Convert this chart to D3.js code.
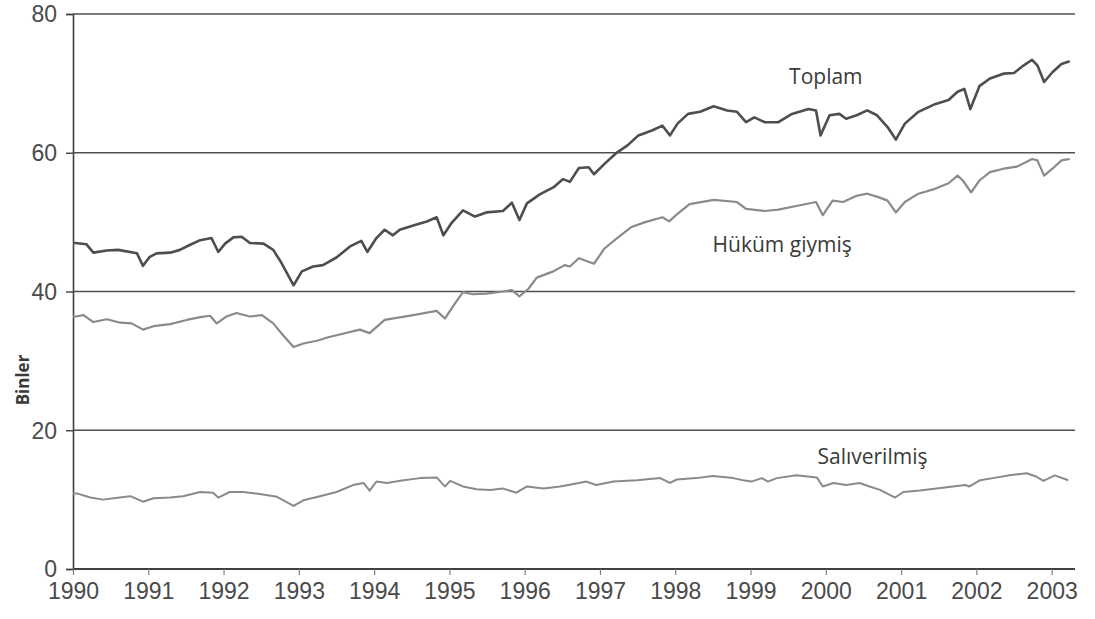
<!DOCTYPE html>
<html>
<head>
<meta charset="utf-8">
<script src="https://cdn.jsdelivr.net/npm/d3@7"></script>
<style>
  html, body { margin: 0; padding: 0; background: #fff; }
  svg { display: block; }
</style>
</head>
<body>
<svg id="chart" width="1095" height="619"></svg>
<script>
// ---- data (decimal year, thousands) ----
const yearTicks = [1990,1991,1992,1993,1994,1995,1996,1997,1998,1999,2000,2001,2002,2003];
const valueTicks = [0,20,40,60,80];

const toplam = [
  [1990.00,47.0],[1990.03,47.0],[1990.18,46.8],[1990.27,45.6],[1990.45,45.9],[1990.60,46.0],
  [1990.85,45.5],[1990.93,43.7],[1991.02,45.0],[1991.11,45.5],[1991.29,45.6],[1991.42,46.0],
  [1991.55,46.7],[1991.69,47.4],[1991.84,47.7],[1991.93,45.7],[1992.02,46.9],[1992.13,47.8],
  [1992.24,47.9],[1992.35,47.0],[1992.53,46.9],[1992.66,46.0],[1992.77,44.1],[1992.93,40.9],
  [1993.04,42.9],[1993.19,43.6],[1993.32,43.8],[1993.50,44.9],[1993.68,46.5],[1993.83,47.3],
  [1993.91,45.7],[1994.03,47.7],[1994.14,48.9],[1994.25,48.1],[1994.34,48.9],[1994.52,49.5],
  [1994.70,50.1],[1994.83,50.7],[1994.92,48.1],[1995.03,49.9],[1995.18,51.7],[1995.34,50.8],
  [1995.49,51.4],[1995.71,51.6],[1995.83,52.8],[1995.93,50.3],[1996.03,52.7],[1996.20,54.0],
  [1996.38,55.0],[1996.51,56.2],[1996.60,55.8],[1996.72,57.8],[1996.85,57.9],[1996.92,56.9],
  [1997.06,58.4],[1997.21,59.9],[1997.37,61.1],[1997.51,62.5],[1997.69,63.2],[1997.83,63.9],
  [1997.93,62.5],[1998.03,64.2],[1998.17,65.6],[1998.33,65.9],[1998.51,66.7],[1998.69,66.1],
  [1998.82,65.9],[1998.94,64.4],[1999.05,65.1],[1999.19,64.4],[1999.37,64.4],[1999.55,65.6],
  [1999.77,66.3],[1999.87,66.1],[1999.93,62.5],[2000.05,65.4],[2000.18,65.6],[2000.27,64.9],
  [2000.41,65.4],[2000.55,66.1],[2000.68,65.4],[2000.82,63.7],[2000.93,61.9],[2001.05,64.2],
  [2001.23,65.9],[2001.45,67.0],[2001.63,67.6],[2001.75,68.8],[2001.84,69.2],[2001.92,66.3],
  [2002.04,69.6],[2002.18,70.7],[2002.36,71.4],[2002.50,71.5],[2002.63,72.6],[2002.74,73.4],
  [2002.81,72.6],[2002.90,70.2],[2003.01,71.6],[2003.13,72.8],[2003.24,73.2]
];

const hukum = [
  [1990.00,36.4],[1990.04,36.4],[1990.14,36.6],[1990.27,35.6],[1990.45,36.0],[1990.63,35.5],
  [1990.78,35.4],[1990.93,34.5],[1991.07,35.0],[1991.29,35.3],[1991.51,35.9],[1991.69,36.3],
  [1991.82,36.5],[1991.91,35.4],[1992.04,36.4],[1992.17,36.9],[1992.35,36.4],[1992.51,36.6],
  [1992.66,35.4],[1992.79,33.7],[1992.93,32.0],[1993.06,32.5],[1993.24,32.9],[1993.39,33.4],
  [1993.50,33.7],[1993.81,34.5],[1993.94,34.0],[1994.14,35.9],[1994.52,36.6],[1994.83,37.2],
  [1994.94,36.1],[1995.07,38.2],[1995.18,39.9],[1995.31,39.6],[1995.49,39.7],[1995.71,40.0],
  [1995.83,40.2],[1995.93,39.3],[1996.05,40.4],[1996.16,42.0],[1996.38,42.9],[1996.53,43.8],
  [1996.60,43.6],[1996.72,44.8],[1996.92,44.0],[1997.06,46.2],[1997.24,47.8],[1997.42,49.3],
  [1997.60,50.0],[1997.83,50.7],[1997.92,50.1],[1998.03,51.2],[1998.19,52.6],[1998.51,53.2],
  [1998.82,52.9],[1998.94,51.9],[1999.19,51.6],[1999.37,51.8],[1999.64,52.4],[1999.87,52.9],
  [1999.96,51.0],[2000.09,53.1],[2000.23,52.9],[2000.41,53.8],[2000.55,54.1],[2000.70,53.6],
  [2000.82,53.1],[2000.93,51.4],[2001.05,52.9],[2001.23,54.1],[2001.45,54.8],[2001.63,55.6],
  [2001.75,56.7],[2001.82,56.0],[2001.93,54.3],[2002.04,56.0],[2002.18,57.2],[2002.36,57.7],
  [2002.54,58.0],[2002.74,59.1],[2002.81,58.9],[2002.90,56.7],[2003.01,57.7],[2003.13,58.9],
  [2003.24,59.1]
];

const saliverilmis = [
  [1990.00,10.9],[1990.05,10.9],[1990.23,10.3],[1990.40,10.0],[1990.62,10.3],[1990.76,10.5],
  [1990.93,9.7],[1991.07,10.2],[1991.29,10.3],[1991.46,10.5],[1991.69,11.1],[1991.86,11.0],
  [1991.93,10.3],[1992.08,11.1],[1992.26,11.1],[1992.48,10.8],[1992.71,10.4],[1992.93,9.1],
  [1993.06,9.9],[1993.28,10.5],[1993.50,11.1],[1993.72,12.1],[1993.86,12.4],[1993.94,11.3],
  [1994.03,12.6],[1994.17,12.4],[1994.39,12.8],[1994.61,13.1],[1994.83,13.2],[1994.94,11.9],
  [1995.01,12.7],[1995.18,11.9],[1995.36,11.5],[1995.54,11.4],[1995.71,11.6],[1995.89,11.0],
  [1996.03,11.9],[1996.25,11.6],[1996.47,11.9],[1996.72,12.4],[1996.82,12.6],[1996.95,12.1],
  [1997.18,12.6],[1997.49,12.8],[1997.80,13.1],[1997.93,12.4],[1998.02,12.9],[1998.28,13.1],
  [1998.50,13.4],[1998.77,13.1],[1998.90,12.8],[1999.01,12.6],[1999.15,13.1],[1999.23,12.6],
  [1999.35,13.1],[1999.61,13.5],[1999.79,13.3],[1999.88,13.2],[1999.96,11.9],[2000.10,12.4],
  [2000.27,12.1],[2000.45,12.4],[2000.58,11.9],[2000.72,11.4],[2000.92,10.3],[2001.03,11.1],
  [2001.25,11.3],[2001.47,11.6],[2001.69,11.9],[2001.85,12.1],[2001.91,11.9],[2002.05,12.8],
  [2002.22,13.1],[2002.44,13.5],[2002.67,13.8],[2002.80,13.3],[2002.89,12.7],[2003.04,13.5],
  [2003.22,12.8]
];

const seriesLabels = ["Toplam", "Hüküm giymiş", "Salıverilmiş"];
const labelAnchors = [[2000.0, 69.9], [1999.42, 45.7], [2000.62, 15.1]]; // [year, value] of label baselines
const axisTitle = "Binler";

// ---- layout ----
const svg = d3.select("#chart");
const margin = {left: 73, right: 20, top: 14, bottom: 50};
const W = 1095, H = 619;
const x = d3.scaleLinear().domain([1990, 2003.31]).range([margin.left, W - margin.right]);
const y = d3.scaleLinear().domain([0, 80]).range([H - margin.bottom, margin.top]);

// horizontal gridlines
svg.append("g").selectAll("line")
  .data(valueTicks.filter(v => v > 0))
  .join("line")
  .attr("x1", x(1990)).attr("x2", x.range()[1])
  .attr("y1", d => y(d)).attr("y2", d => y(d))
  .attr("stroke", "#505050").attr("stroke-width", 1.6);

// y axis
const yAxis = svg.append("g")
  .attr("transform", `translate(${x(1990)},0)`)
  .call(d3.axisLeft(y).tickValues(valueTicks).tickSize(7).tickPadding(9).tickFormat(d3.format("d")));
yAxis.select(".domain").attr("stroke", "#404040").attr("stroke-width", 1.6);
yAxis.selectAll(".tick line").attr("stroke", "#404040").attr("stroke-width", 1.4);
yAxis.selectAll(".tick text")
  .attr("font-family", "'Liberation Sans', Arial, sans-serif")
  .attr("font-size", 23).attr("fill", "#4a4a4a").attr("dy", "0.34em");

// x axis
const xAxis = svg.append("g")
  .attr("transform", `translate(0,${y(0)})`)
  .call(d3.axisBottom(x).tickValues(yearTicks).tickSize(6).tickPadding(8).tickFormat(d3.format("d")));
xAxis.select(".domain").attr("stroke", "#404040").attr("stroke-width", 2.2).attr("d", `M${x(1990)},0H${x.range()[1]}`);
xAxis.selectAll(".tick line").attr("stroke", "#808080").attr("stroke-width", 1.2);
xAxis.selectAll(".tick text")
  .attr("font-family", "'Liberation Sans', Arial, sans-serif")
  .attr("font-size", 23).attr("fill", "#4a4a4a");

// axis title
svg.append("text")
  .attr("transform", `translate(29,380) rotate(-90)`)
  .attr("text-anchor", "middle")
  .attr("font-family", "'Open Sans', sans-serif")
  .attr("font-size", 17).attr("font-weight", 700).attr("fill", "#3a3a3a")
  .text(axisTitle);

// lines
const line = d3.line().x(d => x(d[0])).y(d => y(d[1]));
const seriesData = [toplam, hukum, saliverilmis];
const seriesColors = ["#4e4e4e", "#8a8a8a", "#8a8a8a"];
const seriesWidths = [2.6, 2.2, 2.0];
svg.append("g").selectAll("path")
  .data(seriesData)
  .join("path")
  .attr("d", line)
  .attr("fill", "none")
  .attr("stroke", (d, i) => seriesColors[i])
  .attr("stroke-width", (d, i) => seriesWidths[i])
  .attr("stroke-linejoin", "round");

// series labels
svg.append("g").selectAll("text")
  .data(seriesLabels)
  .join("text")
  .attr("x", (d, i) => x(labelAnchors[i][0]))
  .attr("y", (d, i) => y(labelAnchors[i][1]))
  .attr("text-anchor", "middle")
  .attr("font-family", "'Open Sans', sans-serif")
  .attr("font-size", 21).attr("fill", "#3a3a3a")
  .text(d => d);
</script>
</body>
</html>
